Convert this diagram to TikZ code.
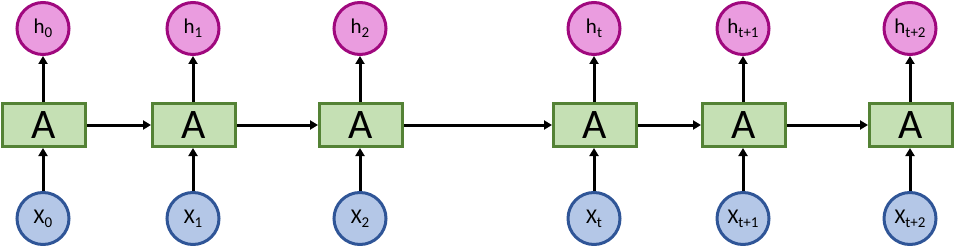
\documentclass[tikz,border=0pt]{standalone}
\usepackage{fontspec}
\setmainfont{Carlito}
\usetikzlibrary{arrows.meta}
\definecolor{boxfill}{HTML}{C5E0B4}
\definecolor{boxline}{HTML}{548235}
\definecolor{hfill}{HTML}{EA9CDF}
\definecolor{hline}{HTML}{A0087E}
\definecolor{xfill}{HTML}{B4C7E7}
\definecolor{xline}{HTML}{2F5597}
\newcommand{\lbl}[2]{{\fontsize{21}{21}\selectfont #1}\raisebox{-4pt}{\fontsize{15}{15}\selectfont #2}}
\tikzset{
  cell/.style={draw=boxline, fill=boxfill, line width=3pt, minimum width=83pt, minimum height=43pt, inner sep=0pt, font=\fontsize{42}{42}\selectfont},
  hnode/.style={circle, draw=hline, fill=hfill, line width=3pt, minimum size=52pt, inner sep=0pt},
  xnode/.style={circle, draw=xline, fill=xfill, line width=3pt, minimum size=52pt, inner sep=0pt},
  conn/.style={line width=3pt, -{Triangle[length=8pt,width=9pt]}}
}
\begin{document}
\begin{tikzpicture}[x=1pt,y=-1pt]
\useasboundingbox (0,0) rectangle (955,246);
\foreach \n/\x/\s in {a/44/0, b/194/1, c/361/2, d/595/t, e/744/t+1, f/911/t+2}{
  \node[cell] (A\n) at (\x,125) {A};
  \node[hnode] (h\n) at (\x-1,28.5) {\lbl{h}{\s}};
  \node[xnode] (x\n) at (\x-1,218.5) {\lbl{X}{\s}};
  \draw[conn] (A\n.north -| h\n) -- (h\n);
  \draw[conn] (x\n) -- (A\n.south -| x\n);
}
\draw[conn] (Aa) -- (Ab);
\draw[conn] (Ab) -- (Ac);
\draw[conn] (Ac) -- (Ad);
\draw[conn] (Ad) -- (Ae);
\draw[conn] (Ae) -- (Af);
\end{tikzpicture}
\end{document}
